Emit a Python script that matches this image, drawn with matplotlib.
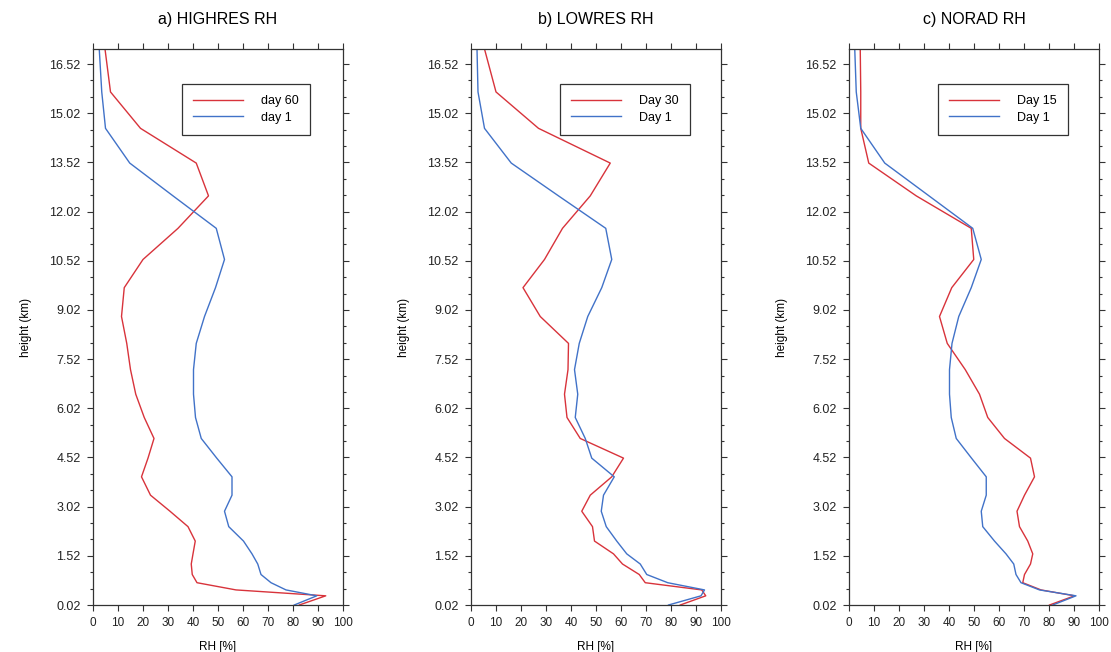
import numpy as np
import matplotlib
matplotlib.use("Agg")
from matplotlib import pyplot as plt
from matplotlib.ticker import FixedLocator

plt.rcParams['font.family'] = ['Liberation Sans', 'DejaVu Sans']

# model levels (km)
height = [0.02, 0.3, 0.48, 0.7, 0.95, 1.27, 1.58, 1.97, 2.41, 2.88, 3.37, 3.93, 4.5,
          5.1, 5.74, 6.45, 7.2, 8.0, 8.82, 9.7, 10.56, 11.51, 12.5, 13.5, 14.56, 15.67, 16.98]

# a) HIGHRES
highres_day60 = [82.5, 93.1, 57.2, 41.6, 39.7, 39.3, 40.0, 40.9, 38.0, 30.8, 23.0, 19.4, 22.0,
                 24.4, 20.5, 17.1, 15.0, 13.5, 11.4, 12.5, 20.0, 34.0, 46.2, 41.3, 19.0, 7.0, 4.8]
highres_day1 = [80.5, 89.5, 77.2, 71.2, 67.2, 65.9, 63.6, 60.2, 54.3, 52.6, 55.6, 55.6, 49.5,
                43.3, 41.0, 40.2, 40.2, 41.3, 44.6, 49.0, 52.6, 49.3, 32.0, 14.7, 5.0, 3.5, 2.5]

# b) LOWRES
lowres_day30 = [83.7, 93.9, 92.3, 69.7, 67.3, 60.6, 57.0, 49.4, 48.6, 44.3, 47.7, 56.3, 61.0,
                43.7, 38.4, 37.4, 38.8, 39.0, 27.7, 20.8, 29.4, 36.6, 47.7, 55.7, 27.0, 10.0, 5.4]
lowres_day1 = [79.0, 92.0, 93.4, 78.7, 70.3, 67.7, 62.3, 58.3, 54.1, 52.1, 53.0, 57.3, 48.3,
               45.7, 41.7, 42.7, 41.4, 43.3, 46.7, 52.3, 56.3, 53.9, 35.0, 16.1, 5.4, 2.8, 2.4]

# c) NORAD
norad_day15 = [80.2, 90.2, 76.8, 69.5, 70.2, 72.6, 73.5, 71.5, 68.2, 67.2, 70.2, 74.2, 72.6,
               62.2, 55.5, 52.2, 46.5, 39.3, 36.2, 41.1, 49.9, 48.9, 26.9, 7.9, 4.7, 4.7, 4.5]
norad_day1 = [81.5, 90.8, 76.2, 68.8, 66.8, 65.9, 62.8, 58.2, 53.5, 52.9, 54.9, 54.9, 49.0,
              42.9, 40.9, 40.2, 40.2, 41.2, 43.9, 48.9, 52.9, 49.5, 32.0, 14.3, 4.7, 2.9, 2.3]

titles = ["a) HIGHRES RH", "b) LOWRES RH", "c) NORAD RH"]
labels = [("day 60", "day 1"), ("Day 30", "Day 1"), ("Day 15", "Day 1")]
series = [(highres_day60, highres_day1), (lowres_day30, lowres_day1), (norad_day15, norad_day1)]

red = '#d8333b'
blue = '#4172c8'

fig = plt.figure(figsize=(11.11, 6.52), dpi=100)
lefts = [93, 471, 849]

ymin, ymax = 0.02, 16.98
major_y = np.arange(0.02, 16.6, 1.5)
minor_y = np.arange(0.02, 17.0, 0.5)

for i in range(3):
    ax = fig.add_axes([lefts[i] / 1111, 47 / 652, 250 / 1111, 556 / 652])
    r, b = series[i]
    ax.plot(r, height, color=red, lw=1.0, label=labels[i][0])
    ax.plot(b, height, color=blue, lw=1.0, label=labels[i][1])

    ax.set_xlim(0, 100)
    ax.set_ylim(ymin, ymax)
    ax.set_xticks(np.arange(0, 101, 10))
    ax.yaxis.set_major_locator(FixedLocator(major_y))
    ax.yaxis.set_minor_locator(FixedLocator(minor_y))
    ax.set_yticklabels(["%.2f" % v for v in major_y])

    ax.tick_params(axis='both', which='both', direction='out', top=True, right=True,
                   width=0.8, color='#333333', labelcolor='#222222')
    ax.tick_params(axis='y', which='major', length=4, pad=5, labelsize=9)
    ax.tick_params(axis='y', which='minor', length=2.5)
    ax.tick_params(axis='x', which='major', length=4, pad=5, labelsize=8.5)
    for s in ax.spines.values():
        s.set_linewidth(0.9)
        s.set_color('#333333')

    ax.set_title(titles[i], fontsize=11.5, pad=18)
    ax.set_xlabel("RH [%]", fontsize=8.5, labelpad=8)
    ax.set_ylabel("height (km)", fontsize=8.5, labelpad=12)

    leg = ax.legend(loc='upper left', bbox_to_anchor=(0.355, 0.937), borderaxespad=0,
                    fontsize=9, handlelength=4.0, handletextpad=1.45, borderpad=0.9,
                    labelspacing=0.35, fancybox=False, framealpha=1)
    leg.get_frame().set_edgecolor('#333333')
    leg.get_frame().set_linewidth(0.9)

plt.savefig("out.png", dpi=100)
